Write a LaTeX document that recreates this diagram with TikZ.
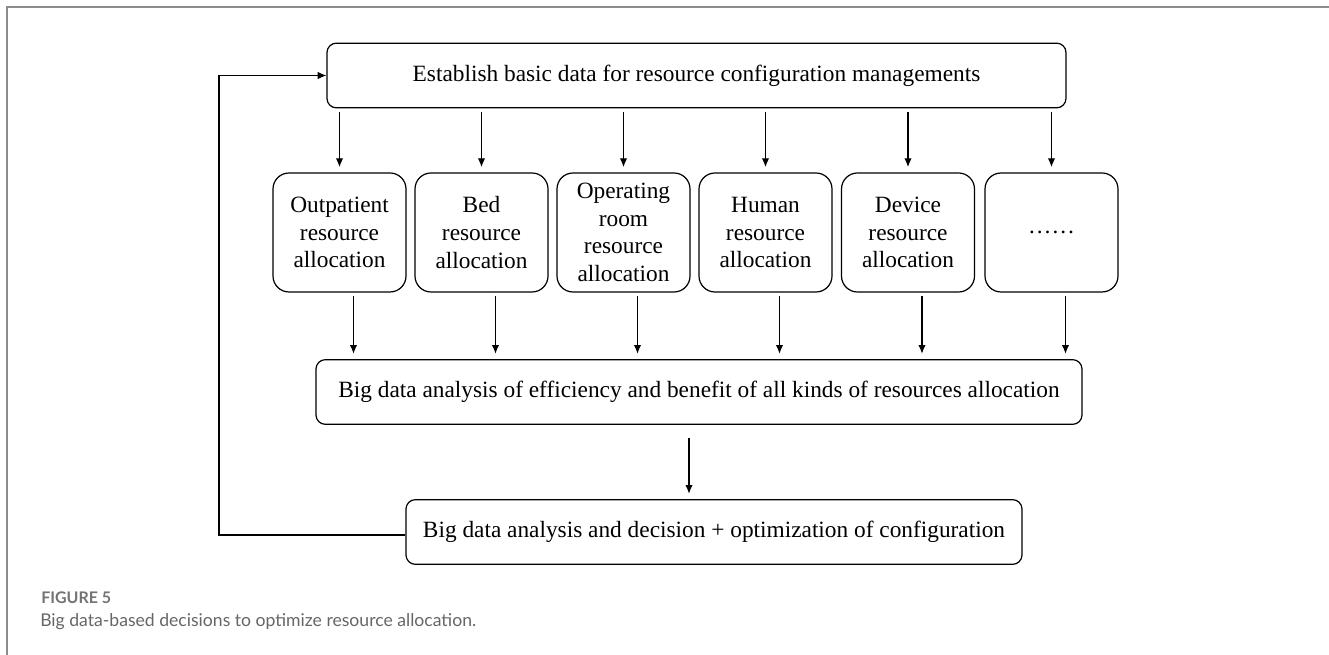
\documentclass[tikz,border=0pt]{standalone}
\usepackage{fontspec}
\setmainfont{Liberation Serif}
\newfontfamily\capfont{Lato}
\usetikzlibrary{positioning,arrows.meta}

\begin{document}
\begin{tikzpicture}[
      x=0.75pt, y=-0.75pt,
      every node/.style={font=\fontsize{17.5}{20.8}\selectfont, align=center, inner sep=0pt},
      wide/.style={draw, line width=0.9pt, rounded corners=7pt,
                   minimum height=48.5pt},
      kind/.style={draw, line width=0.9pt, rounded corners=12pt,
                   minimum width=99.75pt, minimum height=89.25pt},
      arrow/.style={-{Latex[length=6.5pt, width=5.5pt]}, line width=0.85pt,
                    shorten <=2.5pt, shorten >=4pt},
      frame/.style={draw=black!45, line width=1.2pt},
  ]
    \useasboundingbox (0,0) rectangle (1329,655);
    \draw[frame] (7,655) -- (7,7) -- (1329,7);

    \node[wide, minimum width=554.25pt] (base) at (696.5,75.5)
      {Establish basic data for resource configuration managements};

    \node[kind] (outp) at (339.5,232.5) {Outpatient\\resource\\allocation};
    \node[kind] (bed)  at (481.5,232.5) {Bed\\resource\\allocation};
    \node[kind] (oper) at (623.5,232.5) {Operating\\room\\resource\\allocation};
    \node[kind] (hum)  at (765.5,232.5) {Human\\resource\\allocation};
    \node[kind] (dev)  at (908,232.5)   {Device\\resource\\allocation};
    \node[kind] (more) at (1051.5,232.5) {\ldots\ldots};

    \node[wide, minimum width=574.5pt] (effi) at (699,392)
      {Big data analysis of efficiency and benefit of all kinds of resources allocation};
    \node[wide, minimum width=462pt] (deci) at (714,532)
      {Big data analysis and decision + optimization of configuration};

    % from the basic data to each kind of resource
    \draw[arrow] (base.south -| outp) -- (outp.north);
    \draw[arrow] (base.south -| bed)  -- (bed.north);
    \draw[arrow] (base.south -| oper) -- (oper.north);
    \draw[arrow] (base.south -| hum)  -- (hum.north);
    \draw[arrow] (base.south -| dev)  -- (dev.north);
    \draw[arrow] (base.south -| more) -- (more.north);

    % each kind of resource into the analysis
    \draw[arrow] ([xshift=10.5pt]outp.south) -- ([xshift=10.5pt]outp.south |- effi.north);
    \draw[arrow] ([xshift=10.5pt]bed.south)  -- ([xshift=10.5pt]bed.south |- effi.north);
    \draw[arrow] ([xshift=10.5pt]oper.south) -- ([xshift=10.5pt]oper.south |- effi.north);
    \draw[arrow] ([xshift=10.5pt]hum.south)  -- ([xshift=10.5pt]hum.south |- effi.north);
    \draw[arrow] ([xshift=10.5pt]dev.south)  -- ([xshift=10.5pt]dev.south |- effi.north);
    \draw[arrow] ([xshift=10.5pt]more.south) -- ([xshift=10.5pt]more.south |- effi.north);

    \draw[arrow, shorten <=10pt] (effi.south -| 689,0) -- (deci.north -| 689,0);

    % feedback loop
    \coordinate (loop) at (219,535);
    \draw[-{Latex[length=6.5pt, width=5.5pt]}, line width=0.85pt]
      (deci.west |- loop) -- (loop) |- (base.west);

    \node[font=\capfont\bfseries\fontsize{12}{14}\selectfont, text=black!55, anchor=base west]
      (fig) at (41,604) {FIGURE 5};
    \node[font=\capfont\fontsize{13.2}{16}\selectfont, text=black!60, anchor=base west]
      (cap) at (40,627) {Big data-based decisions to optimize resource allocation.};
  \end{tikzpicture}
\end{document}
